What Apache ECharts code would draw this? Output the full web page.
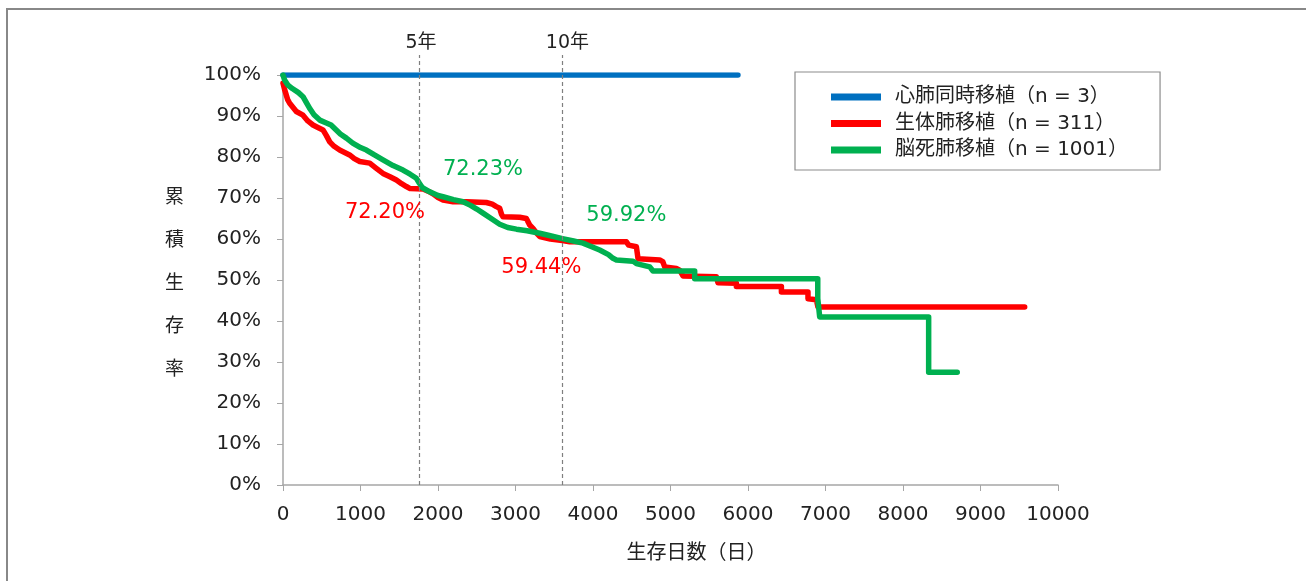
<!DOCTYPE html>
<html>
<head>
<meta charset="utf-8">
<script src="https://cdn.jsdelivr.net/npm/echarts@6/dist/echarts.min.js"></script>
<style>
  html, body { margin: 0; padding: 0; background: #fff; }
  #frame { position: absolute; left: 6px; top: 8px; width: 1400px; height: 700px;
           border-left: 2px solid #888; border-top: 2px solid #888; box-sizing: border-box; }
  #chart { position: absolute; left: 0; top: 0; width: 1306px; height: 581px; }
</style>
</head>
<body>
<div id="frame"></div>
<div id="chart"></div>
<script>
// ---- data: survival curves (day, cumulative survival %) ----
// repeated days are the vertical drops of the Kaplan–Meier staircase
const seriesNames = ['心肺同時移植（n = 3）', '生体肺移植（n = 311）', '脳死肺移植（n = 1001）'];

const blueDays = [0, 5870];
const blueSurv = [100, 100];

const redDays = [0, 20, 60, 86, 172, 258, 320, 387, 450, 516, 560, 603, 660, 731, 860, 920, 990, 1119, 1200, 1290, 1380, 1463, 1530, 1592, 1640, 1806,
  1880, 1935, 2000, 2065, 2194, 2366, 2624, 2700, 2753, 2796, 2820, 2839, 3054, 3140, 3183, 3226, 3270, 3312, 3450, 3605, 3700, 4431,
  4460, 4560, 4581, 4861, 4900, 4925, 5076, 5119, 5161, 5592, 5613, 5850, 5850, 6431, 6431, 6774, 6774, 6882, 6903, 9570];
const redSurv = [98.0, 96.5, 94.0, 93.1, 91.1, 90.2, 88.8, 87.8, 87.2, 86.6, 85.2, 83.7, 82.6, 81.7, 80.5, 79.6, 78.9, 78.5, 77.3, 76.0, 75.2, 74.4, 73.5, 72.8, 72.3, 72.2,
  71.6, 71.0, 70.1, 69.5, 69.1, 69.1, 68.9, 68.5, 67.9, 67.5, 66.0, 65.4, 65.3, 65.0, 63.4, 62.6, 61.5, 60.6, 60.0, 59.6, 59.3, 59.3,
  58.5, 58.1, 55.2, 54.9, 54.5, 53.2, 52.8, 52.4, 51.0, 50.8, 49.3, 49.2, 48.4, 48.4, 47.1, 47.1, 45.4, 45.2, 43.4, 43.4];

const greenDays = [0, 20, 60, 120, 200, 258, 300, 350, 400, 474, 560, 620, 680, 740, 818, 900, 1000, 1076, 1180, 1290, 1420, 1548, 1640, 1721, 1760,
  1800, 1893, 2000, 2065, 2200, 2323, 2420, 2500, 2581, 2700, 2796, 2900, 3012, 3150, 3312, 3450, 3605, 3750, 3871, 3960, 4086, 4200,
  4258, 4302, 4516, 4560, 4732, 4774, 5312, 5312, 6900, 6900, 6925, 6925, 8331, 8331, 8700];
const greenSurv = [100, 98.8, 97.6, 96.7, 95.7, 94.7, 93.3, 91.7, 90.3, 89.0, 88.3, 87.8, 86.7, 85.6, 84.6, 83.4, 82.3, 81.7, 80.5, 79.3, 77.9, 76.8, 75.8, 74.8, 73.6,
  72.5, 71.5, 70.6, 70.3, 69.6, 69.1, 68.2, 67.3, 66.3, 64.8, 63.6, 62.8, 62.4, 62.0, 61.4, 60.8, 60.1, 59.5, 59.0, 58.3, 57.3, 56.2,
  55.3, 54.9, 54.6, 54.0, 53.2, 52.2, 52.2, 50.3, 50.3, 45.5, 45.3, 41.0, 41.0, 27.5, 27.5];

// reference lines (5 years / 10 years)
const yearLabels = ['5年', '10年'];
const yearDays = [1755, 3605];

// survival annotations at 5 / 10 years
const redNotes = [[1755, 72.20], [3605, 59.44]];
const greenNotes = [[1755, 72.23], [3605, 59.92]];

const xTicks = [0, 10000, 1000];   // min, max, interval
const yTicks = [0, 100, 10];

const colors = ['#0070C0', '#FF0000', '#00B050'];
const FONT = "'DejaVu Sans', 'Noto Sans CJK JP', sans-serif";

function zip(a, b) { return a.map((v, i) => [v, b[i]]); }

const chart = echarts.init(document.getElementById('chart'), null, { renderer: 'canvas' });

const lineBase = (name, data, color) => ({
  name, type: 'line', data, showSymbol: false, symbol: 'none',
  xAxisIndex: 0, yAxisIndex: 0,
  lineStyle: { color, width: 5.5, cap: 'round', join: 'round' },
  itemStyle: { color }, silent: true, animation: false
});

const noteLabel = (color, text, offset) => ({
  show: true, color, fontFamily: FONT, fontSize: 21, formatter: text, offset
});

const redSeries = lineBase(seriesNames[1], zip(redDays, redSurv), colors[1]);
redSeries.markPoint = {
  symbol: 'circle', symbolSize: 0, silent: true, animation: false,
  data: redNotes.map((p, i) => ({
    coord: p, value: p[1],
    label: noteLabel(colors[1], p[1].toFixed(2) + '%', i === 0 ? [-34, 24] : [-21, 26])
  }))
};
const greenSeries = lineBase(seriesNames[2], zip(greenDays, greenSurv), colors[2]);
greenSeries.markPoint = {
  symbol: 'circle', symbolSize: 0, silent: true, animation: false,
  data: greenNotes.map((p, i) => ({
    coord: p, value: p[1],
    label: noteLabel(colors[2], p[1].toFixed(2) + '%', i === 0 ? [64, -19] : [64, -24])
  }))
};

const axisGray = '#a6a6a6';
const textColor = '#222';

const option = {
  animation: false,
  backgroundColor: 'transparent',
  textStyle: { fontFamily: FONT },
  grid: [
    { left: 283, right: 248, top: 75, bottom: 96 },
    { left: 283, right: 248, top: 55, bottom: 96 }
  ],
  xAxis: [
    { type: 'value', gridIndex: 0, min: xTicks[0], max: xTicks[1], interval: xTicks[2],
      name: '生存日数（日）', nameLocation: 'middle', nameGap: 59,
      nameTextStyle: { fontFamily: FONT, fontSize: 20, color: textColor, padding: [0, 0, 0, 52] },
      axisLine: { show: true, lineStyle: { color: axisGray, width: 1.5 } },
      axisTick: { show: true, length: 6, lineStyle: { color: axisGray, width: 1 } },
      axisLabel: { fontFamily: FONT, fontSize: 20, color: textColor, margin: 20, formatter: (v) => String(v) },
      splitLine: { show: false } },
    { type: 'value', gridIndex: 1, min: xTicks[0], max: xTicks[1], show: false }
  ],
  yAxis: [
    { type: 'value', gridIndex: 0, min: yTicks[0], max: yTicks[1], interval: yTicks[2],
      axisLine: { show: true, lineStyle: { color: axisGray, width: 1.5 } },
      axisTick: { show: true, length: 6, lineStyle: { color: axisGray, width: 1 } },
      axisLabel: { fontFamily: FONT, fontSize: 20, color: textColor, margin: 22, formatter: '{value}%' },
      splitLine: { show: false } },
    { type: 'value', gridIndex: 1, min: 0, max: 1, show: false }
  ],
  legend: {
    orient: 'vertical', left: 795, top: 72,
    data: seriesNames.map((n) => ({ name: n, icon: 'rect' })),
    itemWidth: 50, itemHeight: 7, itemGap: 6.5,
    padding: [15, 32, 10, 36],
    borderColor: '#8c8c8c', borderWidth: 1.2, backgroundColor: '#fff',
    textStyle: { fontFamily: FONT, fontSize: 20, color: textColor, lineHeight: 20, padding: [0, 0, 0, 9] },
    selectedMode: false
  },
  graphic: [
    { type: 'text', left: 165, top: 174,
      style: { text: '累\n積\n生\n存\n率', font: "19px 'Noto Sans CJK JP'", lineHeight: 43, fill: textColor, align: 'center' } }
  ],
  series: [
    { type: 'scatter', xAxisIndex: 1, yAxisIndex: 1, data: yearDays.map((d) => [d, 0]), symbolSize: 0, silent: true,
      markLine: {
        symbol: 'none', silent: true, animation: false,
        lineStyle: { color: '#7f7f7f', type: [4, 3], width: 1.2 },
        label: { show: true, position: 'end', distance: 2, fontFamily: FONT, fontSize: 19, color: textColor, formatter: '{b}' },
        data: yearDays.map((d, i) => ({ xAxis: d, name: yearLabels[i], label: { offset: i === 0 ? [2, 0] : [5, 0] } }))
      } },
    lineBase(seriesNames[0], zip(blueDays, blueSurv), colors[0]),
    redSeries,
    greenSeries
  ]
};
chart.setOption(option);
</script>
</body>
</html>
